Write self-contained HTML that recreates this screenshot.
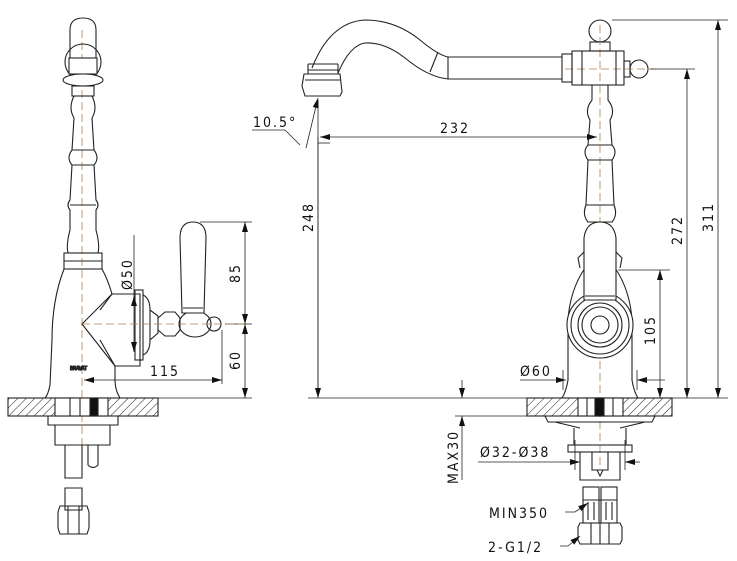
<!DOCTYPE html>
<html><head><style>
html,body{margin:0;padding:0;background:#fff}
svg{display:block}
text{font-family:"DejaVu Sans Condensed","Liberation Sans",sans-serif;font-size:14px;fill:#111;letter-spacing:2px}
</style></head><body>
<svg width="737" height="561" viewBox="0 0 737 561" xmlns="http://www.w3.org/2000/svg">
<defs>
<pattern id="h" width="6" height="6" patternUnits="userSpaceOnUse" patternTransform="rotate(45)">
<line x1="0" y1="0" x2="0" y2="6" stroke="#222" stroke-width="1"/>
</pattern>
<marker id="a" markerWidth="10" markerHeight="6" refX="10" refY="3" orient="auto-start-reverse" markerUnits="userSpaceOnUse">
<path d="M0,0 L10,3 L0,6 z" fill="#111"/>
</marker>
</defs>
<g fill="none" stroke="#222" stroke-width="1.1">
<!-- ============ LEFT VIEW ============ -->
<line x1="82" y1="30" x2="82" y2="470" stroke="#b08050" stroke-dasharray="8,4" stroke-width="0.8"/>
<!-- spout top -->
<path d="M70,62 L70,30 Q70,18 83,18 Q96,18 96,30 L96,62"/>
<circle cx="83" cy="62" r="18"/>
<rect x="69" y="58" width="28" height="16" fill="#fff"/>
<ellipse cx="83" cy="80" rx="20" ry="6" fill="#fff"/>
<rect x="72" y="86" width="22" height="10"/>
<path d="M74,96 Q68,108 74,118 L72,150 Q66,158 72,165 L70,200 Q66,205 70,210 L70,230 Q66,245 68,253 L98,253 Q100,245 96,230 L96,210 Q100,205 96,200 L94,165 Q100,158 94,150 L92,118 Q98,108 92,96"/>
<line x1="72" y1="150" x2="94" y2="150"/><line x1="72" y1="165" x2="94" y2="165"/><line x1="70" y1="205" x2="96" y2="205"/>
<rect x="64" y="253" width="38" height="16"/>
<line x1="64" y1="261" x2="102" y2="261"/>
<!-- body -->
<path d="M64,269 Q52,300 52,340 L50,385 Q48,395 45,398 L120,398 Q115,390 115,380 L115,366 L140,366 L140,294 L112,294 Q108,280 102,269"/>
<path d="M112,294 L82,324 L115,366"/>
<path d="M112,294 L100,310 M100,340 L115,366"/>
<text x="70" y="370" style="font-size:5px;letter-spacing:0">BRAVAT</text>
<!-- side handle -->
<rect x="135" y="290" width="8" height="70"/>
<path d="M143,295 Q150,298 150,310 L150,340 Q150,352 143,355"/>
<path d="M150,310 L158,316 L158,333 L150,340"/>
<path d="M158,318 L165,312 L175,312 L180,318 L180,330 L175,336 L165,336 L158,330"/>
<ellipse cx="195" cy="324" rx="16" ry="13"/>
<circle cx="214" cy="324" r="7"/>
<path d="M182,313 L180,238 Q180,222 193,222 Q206,222 206,238 L204,313 z" fill="#fff"/>
<line x1="183" y1="308" x2="203" y2="308"/>
<!-- counter left -->
<rect x="8" y="398" width="150" height="18" fill="url(#h)" stroke="#222"/>
<rect x="55" y="398" width="53" height="18" fill="#fff"/>
<rect x="90" y="398" width="8" height="18" fill="#111"/>
<line x1="70" y1="398" x2="70" y2="416"/><line x1="80" y1="398" x2="80" y2="416"/>
<path d="M48,416 L118,416 L118,425 L48,425 z"/>
<path d="M55,425 L55,445 L110,445 L110,425"/>
<path d="M65,445 L65,478 L82,478 L82,445 M88,445 L88,465 Q93,470 98,465 L98,445"/>
<path d="M65,488 L65,510 L82,510 L82,488 z"/>
<path d="M58,512 L60,506 L87,506 L89,512 L89,528 L87,534 L60,534 L58,528 z"/>
<line x1="68" y1="506" x2="68" y2="534"/><line x1="79" y1="506" x2="79" y2="534"/>
<!-- left dims -->
<g stroke-width="0.8">
<line x1="200" y1="222" x2="252" y2="222"/>
<line x1="225" y1="324" x2="252" y2="324"/>
<line x1="122" y1="398" x2="252" y2="398"/>
<line x1="245" y1="222" x2="245" y2="324" marker-start="url(#a)" marker-end="url(#a)"/>
<line x1="245" y1="324" x2="245" y2="398" marker-start="url(#a)" marker-end="url(#a)"/>
<line x1="222" y1="330" x2="222" y2="384"/>
<line x1="84" y1="380" x2="222" y2="380" marker-start="url(#a)" marker-end="url(#a)"/>
<line x1="134" y1="235" x2="134" y2="298"/>
<line x1="134" y1="296" x2="134" y2="352" marker-start="url(#a)" marker-end="url(#a)"/>
<line x1="82" y1="324" x2="245" y2="324" stroke="#b08050" stroke-dasharray="8,4"/>
</g>
<!-- ============ RIGHT VIEW ============ -->
<line x1="600" y1="25" x2="600" y2="470" stroke="#b08050" stroke-dasharray="8,4" stroke-width="0.8"/>
<line x1="565" y1="69" x2="660" y2="69" stroke="#b08050" stroke-dasharray="8,4" stroke-width="0.8"/>
<!-- spout -->
<path d="M312,68 Q330,22 365,20 Q395,20 420,40 Q438,55 448,57 L562,57"/>
<path d="M338,73 Q350,45 365,43 Q385,42 405,58 Q428,77 448,79 L562,79"/>
<line x1="448" y1="57" x2="448" y2="79"/><line x1="438" y1="52" x2="430" y2="72"/>
<path d="M304,74 L340,74 L342,92 L340,96 L305,96 L302,86 z"/>
<line x1="305" y1="80" x2="340" y2="80"/><line x1="308" y1="64" x2="338" y2="64"/><line x1="308" y1="70" x2="338" y2="70"/>
<path d="M308,64 L308,74 M338,64 L338,74"/>
<!-- cross -->
<rect x="562" y="54" width="10" height="28"/>
<rect x="572" y="51" width="52" height="34"/>
<line x1="582" y1="51" x2="582" y2="85"/><line x1="616" y1="51" x2="616" y2="85"/>
<rect x="624" y="61" width="6" height="16"/>
<circle cx="639" cy="69" r="9"/>
<rect x="590" y="42" width="20" height="9"/>
<circle cx="600" cy="31" r="11"/>
<!-- column -->
<path d="M592,85 L592,100 Q584,110 590,120 L588,145 Q582,152 588,160 L586,205 Q582,215 588,222 L612,222 Q618,215 614,205 L612,160 Q618,152 612,145 L610,120 Q616,110 608,100 L608,85"/>
<line x1="588" y1="145" x2="612" y2="145"/><line x1="588" y1="160" x2="612" y2="160"/><line x1="586" y1="205" x2="614" y2="205"/>
<!-- body -->
<path d="M585,268 Q570,290 568,320 L568,380 Q566,392 562,398 L638,398 Q634,392 632,380 L632,320 Q630,290 615,268"/>
<circle cx="600" cy="325" r="33" fill="#fff"/>
<circle cx="600" cy="325" r="29"/>
<circle cx="600" cy="325" r="22"/>
<circle cx="600" cy="325" r="18"/>
<circle cx="600" cy="325" r="9"/>
<path d="M584,300 L584,238 Q586,222 600,222 Q614,222 616,238 L616,300 z" fill="#fff"/>
<line x1="585" y1="296" x2="615" y2="296"/>
<path d="M584,252 L578,258 L580,268 M616,252 L622,258 L620,268"/>
<!-- counter right -->
<rect x="527" y="398" width="145" height="18" fill="url(#h)"/>
<rect x="578" y="398" width="45" height="18" fill="#fff"/>
<rect x="595" y="398" width="9" height="18" fill="#111"/>
<line x1="587" y1="398" x2="587" y2="416"/><line x1="613" y1="398" x2="613" y2="416"/>
<path d="M545,416 L655,416 L652,422 L548,422 z"/>
<path d="M555,422 L580,428 M645,422 L620,428"/>
<path d="M574,428 L574,445 M626,428 L626,445"/>
<rect x="568" y="445" width="64" height="7"/>
<path d="M580,452 L580,480 L620,480 L620,452"/>
<path d="M592,452 L592,470 L608,470 L608,452"/>
<path d="M597,470 L600,476 L603,470"/>
<rect x="583" y="487" width="16" height="36"/><rect x="601" y="487" width="16" height="36"/>
<line x1="583" y1="500" x2="617" y2="500"/>
<line x1="588" y1="502" x2="588" y2="520"/><line x1="594" y1="502" x2="594" y2="520"/>
<line x1="606" y1="502" x2="606" y2="520"/><line x1="612" y1="502" x2="612" y2="520"/>
<path d="M578,527 L580,523 L620,523 L622,527 L622,540 L620,544 L580,544 L578,540 z"/>
<line x1="591" y1="523" x2="591" y2="544"/><line x1="600" y1="523" x2="600" y2="544"/><line x1="609" y1="523" x2="609" y2="544"/>
<!-- right dims -->
<g stroke-width="0.8">
<line x1="612" y1="20" x2="728" y2="20"/>
<line x1="650" y1="69" x2="695" y2="69"/>
<line x1="618" y1="270" x2="670" y2="270"/>
<line x1="308" y1="398" x2="728" y2="398"/>
<line x1="718" y1="20" x2="718" y2="398" marker-start="url(#a)" marker-end="url(#a)"/>
<line x1="687" y1="69" x2="687" y2="398" marker-start="url(#a)" marker-end="url(#a)"/>
<line x1="660" y1="270" x2="660" y2="398" marker-start="url(#a)" marker-end="url(#a)"/>
<line x1="318" y1="100" x2="318" y2="398"/>
<line x1="318" y1="137" x2="318" y2="398" marker-end="url(#a)"/>
<line x1="320" y1="137" x2="597" y2="137" marker-start="url(#a)" marker-end="url(#a)"/>
<line x1="330" y1="143" x2="318" y2="143"/>
<line x1="318" y1="98" x2="306" y2="148" marker-start="url(#a)"/>
<line x1="252" y1="130" x2="285" y2="130"/>
<line x1="285" y1="130" x2="300" y2="145"/>
<line x1="520" y1="380" x2="566" y2="380" marker-end="url(#a)"/>
<line x1="563" y1="370" x2="563" y2="390"/><line x1="637" y1="370" x2="637" y2="390"/>
<line x1="665" y1="380" x2="637" y2="380" marker-end="url(#a)"/>
<line x1="462" y1="380" x2="462" y2="398" marker-end="url(#a)"/>
<line x1="455" y1="416" x2="545" y2="416"/>
<line x1="462" y1="480" x2="462" y2="416" marker-end="url(#a)"/>
<line x1="478" y1="462" x2="580" y2="462" marker-end="url(#a)"/>
<line x1="575" y1="440" x2="575" y2="470"/><line x1="625" y1="440" x2="625" y2="470"/>
<line x1="640" y1="462" x2="625" y2="462" marker-end="url(#a)"/>
<path d="M565,512 L575,512 L588,503" marker-end="url(#a)"/>
<path d="M560,546 L568,546 L580,536" marker-end="url(#a)"/>
</g>
</g>
<!-- texts -->
<text x="0" y="0" transform="translate(240,283) rotate(-90)">85</text>
<text x="0" y="0" transform="translate(240,370) rotate(-90)">60</text>
<text x="150" y="376">115</text>
<text x="0" y="0" transform="translate(132,290) rotate(-90)">Ø50</text>
<text x="440" y="133">232</text>
<text x="253" y="127">10.5°</text>
<text x="0" y="0" transform="translate(313,232) rotate(-90)">248</text>
<text x="0" y="0" transform="translate(682,245) rotate(-90)">272</text>
<text x="0" y="0" transform="translate(713,232) rotate(-90)">311</text>
<text x="0" y="0" transform="translate(655,345) rotate(-90)">105</text>
<text x="520" y="376">Ø60</text>
<text x="0" y="0" transform="translate(458,484) rotate(-90)">MAX30</text>
<text x="480" y="457">Ø32-Ø38</text>
<text x="489" y="518">MIN350</text>
<text x="488" y="552">2-G1/2</text>
</svg>
</body></html>
